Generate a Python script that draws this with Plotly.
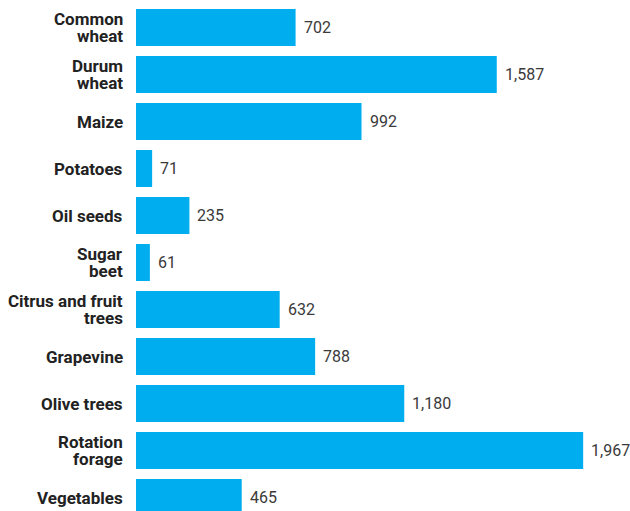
import plotly.graph_objects as go

# Crop categories and values (thousand hectares)
categories = ["Common<br>wheat", "Durum<br>wheat", "Maize", "Potatoes", "Oil seeds",
              "Sugar<br>beet", "Citrus and fruit<br>trees", "Grapevine", "Olive trees",
              "Rotation<br>forage", "Vegetables"]
values = [702, 1587, 992, 71, 235, 61, 632, 788, 1180, 1967, 465]

BAR_COLOR = "#00AEEF"
LABEL_FONT = "Roboto"
LINE_STEP = 17  # px between lines of a wrapped category label

fig = go.Figure(
    go.Bar(
        x=values,
        y=list(range(len(categories))),
        orientation="h",
        marker=dict(color=BAR_COLOR, line=dict(width=0)),
        hoverinfo="skip",
    )
)

# Value labels to the right of each bar
for i, v in enumerate(values):
    fig.add_annotation(
        x=v, y=i, text=f"{v:,}", showarrow=False,
        xanchor="left", yanchor="middle", xshift=6,
        font=dict(family=LABEL_FONT, size=16, color="#3a3a3a"),
    )

# Category labels, right-aligned against the bars, with tight line spacing
for i, cat in enumerate(categories):
    lines = cat.split("<br>")
    n = len(lines)
    for j, line in enumerate(lines):
        fig.add_annotation(
            x=0, xref="paper", y=i, yref="y", text=line, showarrow=False,
            xanchor="right", yanchor="middle", xshift=-11,
            yshift=((n - 1) / 2 - j) * LINE_STEP,
            font=dict(family=LABEL_FONT, size=17, color="#222222", weight="bold"),
        )

fig.update_layout(
    width=630, height=511,
    margin=dict(l=136, r=0, t=0, b=0, autoexpand=False),
    paper_bgcolor="white", plot_bgcolor="white",
    bargap=0.213,
    showlegend=False,
    xaxis=dict(range=[0, 2173], visible=False, fixedrange=True),
    yaxis=dict(
        range=[10.287, -0.585], autorange=False,
        showticklabels=False, automargin=False,
        showgrid=False, zeroline=False, showline=False, ticks="",
    ),
)

fig.write_html("out.html")
